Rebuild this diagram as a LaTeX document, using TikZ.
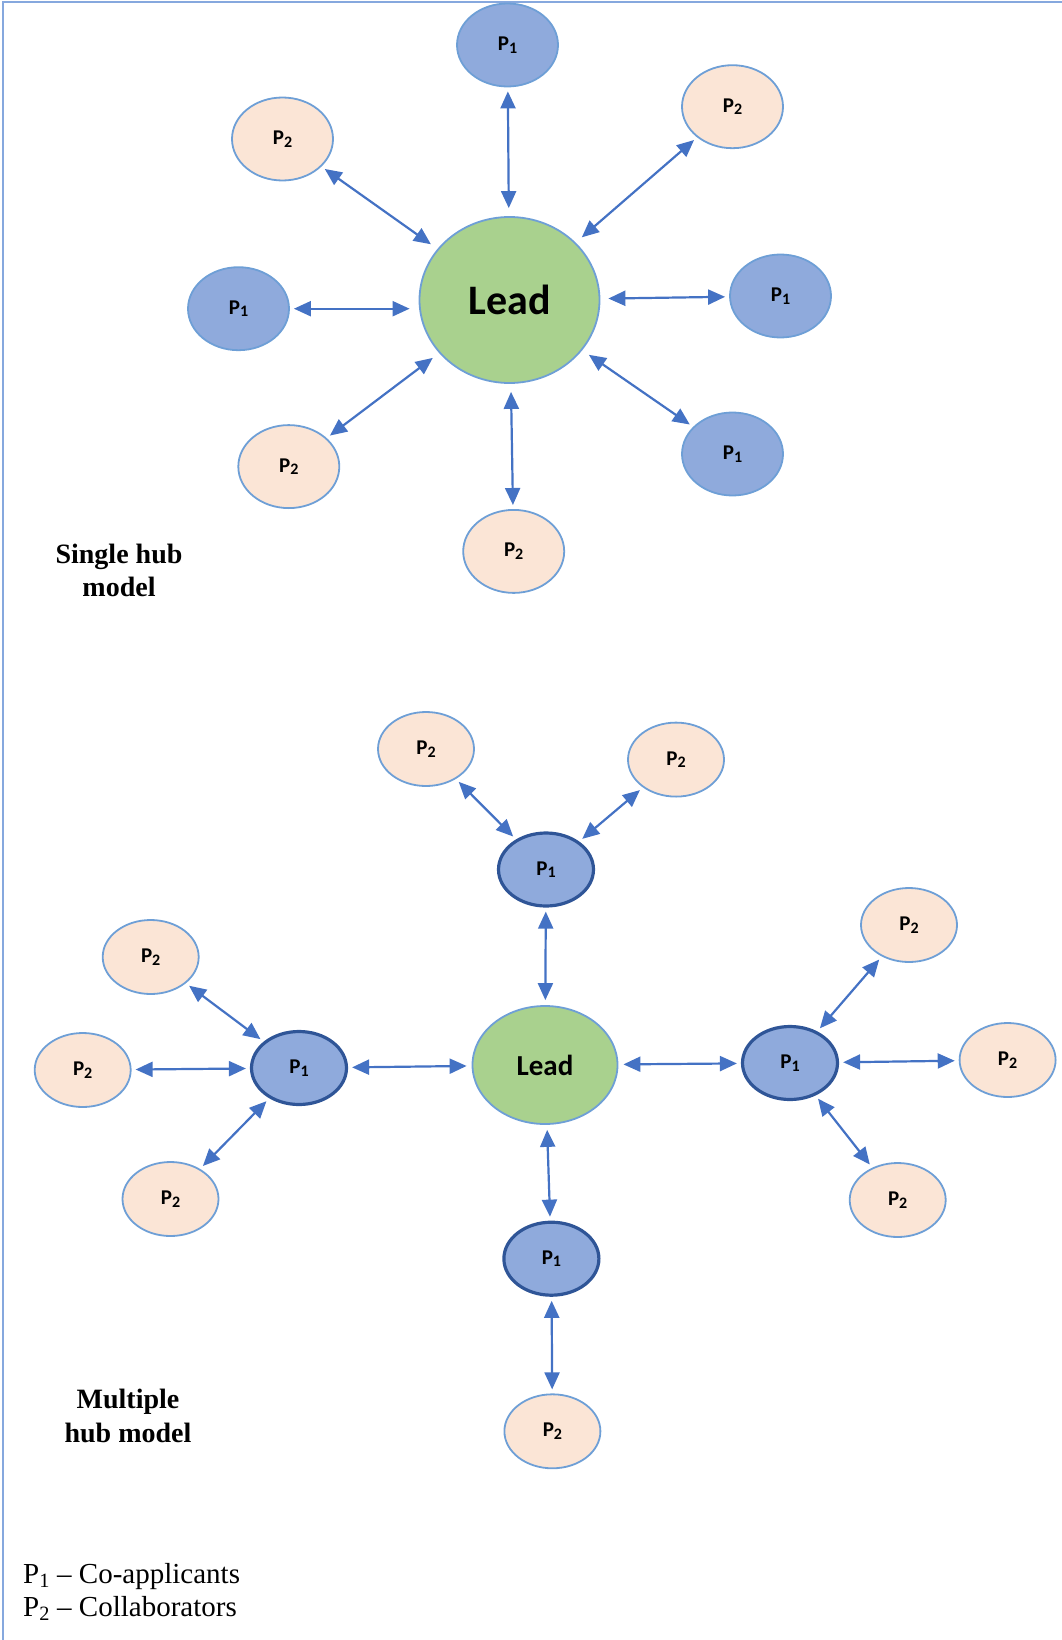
\documentclass[tikz,border=0pt]{standalone}
\usepackage{fontspec}
\setmainfont{Liberation Serif}
\newfontfamily\calib{Carlito}
\usetikzlibrary{shapes.geometric,arrows.meta}

\definecolor{coapp}{HTML}{8FAADC}
\definecolor{collab}{HTML}{FBE5D6}
\definecolor{leadgreen}{HTML}{A9D18E}
\definecolor{rimblue}{HTML}{6E9FD6}
\definecolor{darkrim}{HTML}{2F5597}
\definecolor{linkblue}{HTML}{4472C4}
\definecolor{framblue}{HTML}{86A8DE}

% lowered digit used in the node labels
\newcommand\nsub[1]{\raisebox{-0.12em}{\fontsize{16}{16}\selectfont #1}}

\tikzset{
  blob/.style={ellipse, inner sep=0pt, line width=1.8pt, draw=rimblue,
    font=\calib\bfseries\fontsize{21}{25}\selectfont},
  coa/.style={blob, fill=coapp, minimum width=101pt, minimum height=83pt},
  col/.style={blob, fill=collab, minimum width=101pt, minimum height=83pt},
  coasm/.style={blob, fill=coapp, draw=darkrim, line width=3.2pt,
    minimum width=95pt, minimum height=73pt},
  colsm/.style={blob, fill=collab, minimum width=96pt, minimum height=74pt},
  hub/.style={blob, fill=leadgreen},
  link/.style={draw=linkblue, line width=2.2pt,
    arrows={Triangle[length=17pt,width=15pt]-Triangle[length=17pt,width=15pt]},
    shorten <=4pt, shorten >=4pt},
  title/.style={font=\bfseries\fontsize{28}{33}\selectfont, anchor=base},
  legend/.style={font=\fontsize{29}{33}\selectfont, anchor=base west, inner sep=0pt},
  frame/.style={draw=framblue, line width=2pt}
}

\begin{document}
\begin{tikzpicture}[x=1pt,y=-1pt]
\useasboundingbox (0,0) rectangle (1062,1640);
\draw[frame] (2.5,1640) -- (2.5,2.5) -- (1062,2.5);

% ---------- single hub ----------
\node[hub, minimum width=180pt, minimum height=166pt,
      font=\calib\bfseries\fontsize{42}{48}\selectfont] (leadA) at (509.5,300) {Lead};
\node[coa] (aN)  at (507.5,45)   {P\nsub{1}};
\node[col] (aNE) at (732.5,106.7) {P\nsub{2}};
\node[col] (aNW) at (282.5,139)  {P\nsub{2}};
\node[coa] (aW)  at (238.5,308.7) {P\nsub{1}};
\node[coa] (aE)  at (780.5,296)  {P\nsub{1}};
\node[col] (aSW) at (288.8,466.6) {P\nsub{2}};
\node[coa] (aSE) at (732.5,454)  {P\nsub{1}};
\node[col] (aS)  at (513.7,551.4) {P\nsub{2}};

\draw[link, shorten >=8pt] (aN) -- (leadA);
\draw[link, shorten >=8pt] (aNE) -- (leadA);
\draw[link, shorten >=8pt] (aNW) -- (leadA);
\draw[link, shorten >=9pt] (aW.east) -- (aW.east -| leadA.west);
\draw[link, shorten >=8pt] (aE) -- (leadA);
\draw[link, shorten >=8pt] (aSW) -- (leadA);
\draw[link, shorten >=8pt] (aSE) -- (leadA);
\draw[link, shorten >=8pt] (aS) -- (leadA);

\node[title] (tA1) at (119,563) {Single hub};
\node[title] (tA2) at (119,596) {model};

% ---------- multiple hub ----------
\node[hub, minimum width=145pt, minimum height=118pt,
      font=\calib\bfseries\fontsize{29}{34}\selectfont] (leadB) at (545,1065) {Lead};

\node[coasm] (bN) at (546,869.5)  {P\nsub{1}};
\node[coasm] (bW) at (299,1068)   {P\nsub{1}};
\node[coasm] (bE) at (790,1063)   {P\nsub{1}};
\node[coasm] (bS) at (551.4,1258.7) {P\nsub{1}};

\node[colsm] (bNa) at (426,749)    {P\nsub{2}};
\node[colsm] (bNb) at (676,759.6)  {P\nsub{2}};
\node[colsm] (bWa) at (150.7,957)  {P\nsub{2}};
\node[colsm] (bWb) at (82.7,1070)  {P\nsub{2}};
\node[colsm] (bWc) at (170.5,1199) {P\nsub{2}};
\node[colsm] (bEa) at (909,925)    {P\nsub{2}};
\node[colsm] (bEb) at (1007.6,1060) {P\nsub{2}};
\node[colsm] (bEc) at (897.7,1200) {P\nsub{2}};
\node[colsm] (bSa) at (552.4,1431.3) {P\nsub{2}};

\draw[link, shorten >=5pt] (bN) -- (leadB);
\draw[link, shorten >=5pt] (bW) -- (leadB);
\draw[link, shorten >=5pt] (bE) -- (leadB);
\draw[link, shorten >=5pt] (bS) -- (leadB);

\draw[link] (bNa) -- (bN);
\draw[link] (bNb) -- (bN);
\draw[link] (bWa) -- (bW);
\draw[link] (bWb) -- (bW);
\draw[link] (bWc) -- (bW);
\draw[link] (bEa) -- (bE);
\draw[link] (bEb) -- (bE);
\draw[link] (bEc) -- (bE);
\draw[link] (bSa) -- (bS);

\node[title] (tB1) at (128,1408) {Multiple};
\node[title] (tB2) at (128,1442) {hub model};

% ---------- key ----------
\node[legend] (k1) at (23,1583) {P\textsubscript{1} – Co-applicants};
\node[legend] (k2) at (23,1616) {P\textsubscript{2} – Collaborators};
\end{tikzpicture}
\end{document}
